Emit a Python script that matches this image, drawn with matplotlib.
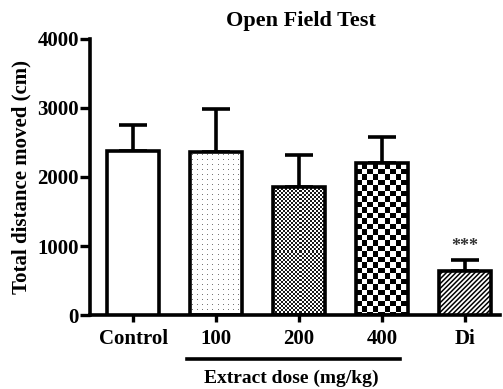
import matplotlib
matplotlib.use("Agg")
import matplotlib.pyplot as plt
import numpy as np

# data
groups = ["Control", "100", "200", "400", "Di"]
means = [2370, 2360, 1855, 2200, 640]
sds = [390, 625, 465, 380, 160]

plt.rcParams['font.family'] = ['Liberation Serif', 'DejaVu Serif']
plt.rcParams['font.weight'] = 'bold'
plt.rcParams['hatch.linewidth'] = 1.1

fig = plt.figure(figsize=(5.03, 3.89), dpi=100)
ax = fig.add_axes([0.179, 0.190, 0.815, 0.710])

x = np.arange(len(groups))
bars = ax.bar(x, means, width=0.63, color="white", edgecolor="black",
              linewidth=2.6, zorder=3)
ax.errorbar(x, means, yerr=[np.zeros(len(sds)), sds], fmt="none",
            ecolor="black", elinewidth=2.6, capsize=10, capthick=2.6, zorder=2)

ax.set_xlim(-0.52, 4.42)
ax.set_ylim(0, 4000)
ax.set_yticks([0, 1000, 2000, 3000, 4000])
ax.set_xticks(x)
ax.set_xticklabels(groups)

fig.canvas.draw()


def texture_fill(bar, pattern, colors):
    # pixel texture clipped to the bar
    x0, y0 = bar.get_x(), bar.get_y()
    w, h = bar.get_width(), bar.get_height()
    p0 = ax.transData.transform((x0, y0))
    p1 = ax.transData.transform((x0 + w, y0 + h))
    nx = int(round(abs(p1[0] - p0[0])))
    ny = int(round(abs(p1[1] - p0[1])))
    jj, ii = np.meshgrid(np.arange(nx), np.arange(ny))
    grid = pattern(ii, jj).astype(float)
    cmap = matplotlib.colors.ListedColormap(colors)
    im = ax.imshow(grid, cmap=cmap, extent=(x0, x0 + w, y0, y0 + h),
                   aspect="auto", interpolation="nearest", zorder=2.5,
                   vmin=0, vmax=1)
    im.set_clip_path(bar)


# sparse grey dots
texture_fill(bars[1], lambda i, j: (i % 5 == 2) & (j % 5 == 2),
             ["white", "#777777"])
# fine checker
texture_fill(bars[2], lambda i, j: ((i // 2) + (j // 2)) % 2 == 1,
             ["white", "#1a1a1a"])
# coarse checker
texture_fill(bars[3], lambda i, j: ((i * 2 // 11) + (j * 2 // 11)) % 2 == 1,
             ["white", "black"])
for b in bars[1:4]:
    b.set_facecolor("none")
bars[4].set_hatch("///////")

ax.set_xlim(-0.52, 4.42)
ax.set_ylim(0, 4000)

ax.text(x[4], means[4] + sds[4] + 200, "***", ha="center", va="center",
        fontsize=13, color="#333333")

for side in ["top", "right"]:
    ax.spines[side].set_visible(False)
for side in ["left", "bottom"]:
    ax.spines[side].set_linewidth(2.6)
ax.tick_params(axis="y", length=7, width=2.4, labelsize=15, pad=1)
ax.tick_params(axis="x", length=5, width=2.4, labelsize=15, pad=5)

ax.set_ylabel("Total distance moved (cm)", fontsize=15, fontweight="bold",
              labelpad=4)
ax.set_title("Open Field Test", fontsize=16, fontweight="bold", pad=9,
             x=0.515)

# group bracket under the extract doses
ax.plot([0.65, 3.22], [-640, -640], color="black", linewidth=2.6,
        clip_on=False)
ax.text(1.9, -910, "Extract dose (mg/kg)", ha="center", va="center",
        fontsize=14, fontweight="bold")

fig.savefig("out.png", dpi=100)
